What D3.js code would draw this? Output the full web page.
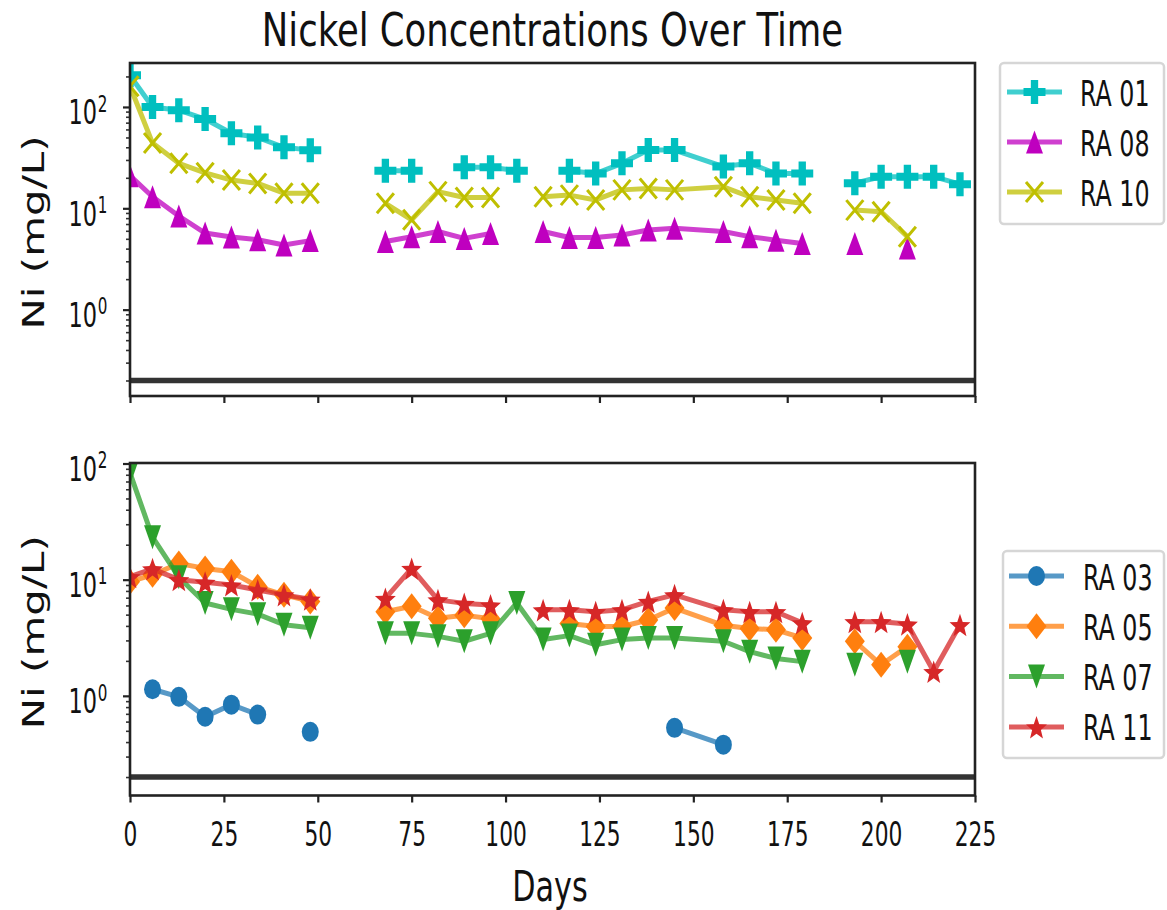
<!DOCTYPE html>
<html>
<head>
<meta charset="utf-8">
<script src="https://cdn.jsdelivr.net/npm/d3@7"></script>
<style>
  body { margin: 0; background: #fff; }
  svg { display: block; font-family: "DejaVu Sans", sans-serif; }
</style>
</head>
<body>
<svg id="chart" width="1167" height="910"></svg>
<script>
// Sampling days (null = no sample for that week)
const days = [0, 6, 13, 20, 27, 34, 41, 48, 55, 62, 68, 75, 82, 89, 96, 103, 110,
              117, 124, 131, 138, 145, 158, 165, 172, 179, 186, 193, 200, 207, 214, 221];

// Upper panel wells, Ni in mg/L
const ra01 = [205, 100, 93, 76, 55, 50, 40, 37.5, null, null, 23.5, 23.5, null, 25.4, 25.4, 23.5, null,
              23.5, 22, 27.8, 37.6, 37.6, 25.8, 27.8, 22, 22, null, 17.7, 20.5, 20.5, 20.5, 17.3];
const ra08 = [21, 13, 8.4, 5.7, 5.2, 4.9, 4.35, 4.8, null, null, 4.7, 5.25, 5.9, 5.05, 5.65, null, 5.9,
              5.15, 5.15, 5.45, 6.1, 6.35, 5.9, 5.25, 4.85, 4.5, null, 4.5, null, 4.05, null, null];
const ra10 = [160, 44, 27.8, 22.4, 19, 17.6, 14.1, 14.1, null, null, 11.2, 7.7, 14.6, 12.8, 12.8, null, 13,
              13.5, 12.1, 15.2, 15.7, 15.2, 16.3, 13, 12.1, 11.2, null, 9.6, 9.25, 5.25, null, null];

// Lower panel wells, Ni in mg/L
const ra03 = [null, 1.14, 0.98, 0.66, 0.84, 0.69, null, 0.49, null, null, null, null, null, null, null, null, null,
              null, null, null, null, 0.53, 0.38, null, null, null, null, null, null, null, null, null];
const ra05 = [9.6, 11, 13.8, 12.5, 11.7, 8.7, 7.4, 6.5, null, null, 5.3, 5.9, 4.65, 4.95, 4.6, null, null,
              4.2, 3.95, 3.95, 4.5, 5.7, 4.05, 3.8, 3.7, 3.15, null, 2.95, 1.85, 2.65, null, null];
const ra07 = [83, 23.2, 10.5, 6.3, 5.55, 5.05, 4.1, 3.85, null, null, 3.45, 3.45, 3.25, 2.95, 3.45, 6.3, 3.05,
              3.3, 2.75, 3.05, 3.15, 3.15, 2.95, 2.4, 2.1, 1.97, null, 1.85, null, 1.97, null, null];
const ra11 = [10.6, 12.4, 10, 9.5, 9, 8.15, 7.4, 6.8, null, null, 6.9, 12.5, 6.7, 6.25, 6.05, null, 5.5,
              5.5, 5.3, 5.5, 6.5, 7.4, 5.5, 5.3, 5.3, 4.25, null, 4.35, 4.35, 4.15, 1.62, 4.1];

const xTicks = [0, 25, 50, 75, 100, 125, 150, 175, 200, 225];
const yMajor = [1, 10, 100];
const detectionLimit = 0.2;

const titleText = "Nickel Concentrations Over Time";
const xLabel = "Days";
const yLabel = "Ni (mg/L)";

const upperSeries = [
  { name: "RA 01", values: ra01, color: "#00bfbf", marker: "plus" },
  { name: "RA 08", values: ra08, color: "#bf00bf", marker: "triUp" },
  { name: "RA 10", values: ra10, color: "#bfbf00", marker: "cross" }
];
const lowerSeries = [
  { name: "RA 03", values: ra03, color: "#1f77b4", marker: "circle" },
  { name: "RA 05", values: ra05, color: "#ff7f0e", marker: "diamond" },
  { name: "RA 07", values: ra07, color: "#2ca02c", marker: "triDown" },
  { name: "RA 11", values: ra11, color: "#d62728", marker: "star" }
];

// ---------- marker shapes (slightly taller than wide) ----------
function markerPath(kind) {
  switch (kind) {
    case "plus": {
      const w = 11, h = 12, a = w / 3, b = h / 3;
      return `M${-a},${-h}L${a},${-h}L${a},${-b}L${w},${-b}L${w},${b}L${a},${b}L${a},${h}L${-a},${h}L${-a},${b}L${-w},${b}L${-w},${-b}L${-a},${-b}Z`;
    }
    case "triUp": { const w = 8.5, h = 11.5; return `M0,${-h}L${w},${h}L${-w},${h}Z`; }
    case "triDown": { const w = 8.5, h = 12; return `M0,${h}L${w},${-h}L${-w},${-h}Z`; }
    case "diamond": { const w = 10, h = 13; return `M0,${-h}L${w},0L0,${h}L${-w},0Z`; }
    case "circle": {
      const w = 8.5, h = 10;
      return `M${-w},0A${w},${h} 0 1,0 ${w},0A${w},${h} 0 1,0 ${-w},0Z`;
    }
    case "star": {
      const w = 11, h = 12.5, inner = 0.42;
      let p = "";
      for (let i = 0; i < 10; i++) {
        const r = i % 2 === 0 ? 1 : inner;
        const ang = -Math.PI / 2 + i * Math.PI / 5;
        p += (i === 0 ? "M" : "L") + (r * Math.cos(ang) * w).toFixed(2) + "," + (r * Math.sin(ang) * h + 1.5).toFixed(2);
      }
      return p + "Z";
    }
    case "cross": { const w = 8.5, h = 10; return `M${-w},${-h}L${w},${h}M${w},${-h}L${-w},${h}`; }
  }
}

function drawMarker(g, kind, color, cx, cy) {
  const p = g.append("path")
    .attr("d", markerPath(kind))
    .attr("transform", `translate(${cx},${cy})`);
  if (kind === "cross") {
    p.attr("fill", "none").attr("stroke", color).attr("stroke-width", 3);
  } else {
    p.attr("fill", color).attr("stroke", "none");
  }
}

// ---------- condensed text helper ----------
function label(parent, str, x, y, size, sx, anchor, rotate) {
  const tr = rotate
    ? `translate(${x},${y}) rotate(-90) scale(1,${sx})`
    : `translate(${x},${y}) scale(${sx},1)`;
  return parent.append("text")
    .attr("transform", tr)
    .attr("text-anchor", anchor || "start")
    .attr("font-size", size)
    .attr("fill", "#111")
    .text(str);
}

const svg = d3.select("#chart");
const x = d3.scaleLinear().domain([0, 225]).range([130, 975]);

const panels = [
  { id: "upper", top: 63, bottom: 396, domain: [0.1406, 271.5], series: upperSeries,
    legend: { x0: 1000, y0: 63, x1: 1164, y1: 224, firstY: 92, step: 50, lineX0: 1007, lineX1: 1062, textX: 1080 } },
  { id: "lower", top: 463, bottom: 795.5, domain: [0.1387, 101], series: lowerSeries,
    legend: { x0: 1003, y0: 551, x1: 1164, y1: 758, firstY: 576, step: 50.3, lineX0: 1009, lineX1: 1064, textX: 1083 } }
];

panels.forEach((P, pi) => {
  const y = d3.scaleLog().domain(P.domain).range([P.bottom, P.top]);
  const g = svg.append("g").attr("class", "panel-" + P.id);

  g.append("clipPath").attr("id", "clip-" + P.id)
    .append("rect").attr("x", x.range()[0]).attr("y", P.top)
    .attr("width", x.range()[1] - x.range()[0]).attr("height", P.bottom - P.top);

  const plot = g.append("g").attr("clip-path", `url(#clip-${P.id})`);

  // detection limit line
  plot.append("line")
    .attr("x1", x.range()[0]).attr("x2", x.range()[1])
    .attr("y1", y(detectionLimit)).attr("y2", y(detectionLimit))
    .attr("stroke", "#333").attr("stroke-width", 5.5);

  // series
  P.series.forEach(s => {
    const pts = days.map((d, i) => ({ d, v: s.values[i] }));
    const line = d3.line()
      .defined(p => p.v != null)
      .x(p => x(p.d)).y(p => y(p.v));
    plot.append("path")
      .attr("d", line(pts))
      .attr("fill", "none")
      .attr("stroke", s.color)
      .attr("stroke-opacity", 0.75)
      .attr("stroke-width", 5)
      .attr("stroke-linejoin", "round")
      .attr("stroke-linecap", "butt");
    const mg = plot.append("g");
    pts.filter(p => p.v != null).forEach(p => drawMarker(mg, s.marker, s.color, x(p.d), y(p.v)));
  });

  // x axis ticks
  const xAxis = d3.axisBottom(x).tickValues(xTicks).tickSize(7).tickSizeOuter(0)
    .tickFormat(pi === 1 ? d3.format("d") : () => "");
  const xg = g.append("g").attr("transform", `translate(0,${P.bottom})`).call(xAxis);
  xg.select(".domain").remove();
  xg.selectAll(".tick line").attr("stroke", "#222").attr("stroke-width", 2.2);
  xg.selectAll(".tick text")
    .attr("font-size", 34).attr("fill", "#111")
    .attr("font-family", "DejaVu Sans, sans-serif")
    .attr("y", 0).attr("dy", 0)
    .attr("transform", "translate(0,50) scale(0.64,1)");

  // y axis: major and minor ticks
  const minor = [];
  for (let e = -1; e <= 2; e++) for (let m = 2; m <= 9; m++) {
    const v = m * Math.pow(10, e);
    if (v >= P.domain[0] && v <= P.domain[1]) minor.push(v);
  }
  const yMinor = g.append("g").attr("transform", `translate(${x.range()[0]},0)`)
    .call(d3.axisLeft(y).tickValues(minor).tickSize(4).tickFormat(() => ""));
  yMinor.select(".domain").remove();
  yMinor.selectAll(".tick line").attr("stroke", "#333").attr("stroke-width", 1.6);

  const majors = yMajor.filter(v => v >= P.domain[0] && v <= P.domain[1] * 1.001);
  const yMaj = g.append("g").attr("transform", `translate(${x.range()[0]},0)`)
    .call(d3.axisLeft(y).tickValues(majors).tickSize(7).tickFormat(() => ""));
  yMaj.select(".domain").remove();
  yMaj.selectAll(".tick line").attr("stroke", "#222").attr("stroke-width", 2.2);

  majors.forEach(v => {
    const ty = y(v);
    const lg = g.append("g").attr("transform", `translate(107,${ty}) scale(0.66,1)`);
    lg.append("text").attr("x", -15).attr("y", 17.4).attr("text-anchor", "end")
      .attr("font-size", 34).attr("fill", "#111").text("10");
    lg.append("text").attr("x", -14).attr("y", 4.7).attr("text-anchor", "start")
      .attr("font-size", 23).attr("fill", "#111").text(String(Math.round(Math.log10(v))));
  });

  // frame
  g.append("rect")
    .attr("x", x.range()[0]).attr("y", P.top)
    .attr("width", x.range()[1] - x.range()[0]).attr("height", P.bottom - P.top)
    .attr("fill", "none").attr("stroke", "#222").attr("stroke-width", 2.6);

  // y label
  label(g, yLabel, 43.5, (P.top + P.bottom) / 2 + 3, 42, 0.71, "middle", true);

  // legend
  const L = P.legend;
  const lg = svg.append("g").attr("class", "legend-" + P.id);
  lg.append("rect")
    .attr("x", L.x0).attr("y", L.y0).attr("width", L.x1 - L.x0).attr("height", L.y1 - L.y0)
    .attr("rx", 4).attr("fill", "#fff").attr("stroke", "#d6d6d6").attr("stroke-width", 2.5);
  P.series.forEach((s, i) => {
    const cy = L.firstY + i * L.step;
    lg.append("line").attr("x1", L.lineX0).attr("x2", L.lineX1).attr("y1", cy).attr("y2", cy)
      .attr("stroke", s.color).attr("stroke-opacity", 0.75).attr("stroke-width", 5);
    drawMarker(lg, s.marker, s.color, (L.lineX0 + L.lineX1) / 2, cy);
    label(lg, s.name, L.textX, cy + 13.5, 36, 0.66, "start");
  });
});

// title and x label
label(svg, titleText, 552.5, 46, 46, 0.77, "middle");
label(svg, xLabel, 550, 901, 42, 0.72, "middle");
</script>
</body>
</html>
